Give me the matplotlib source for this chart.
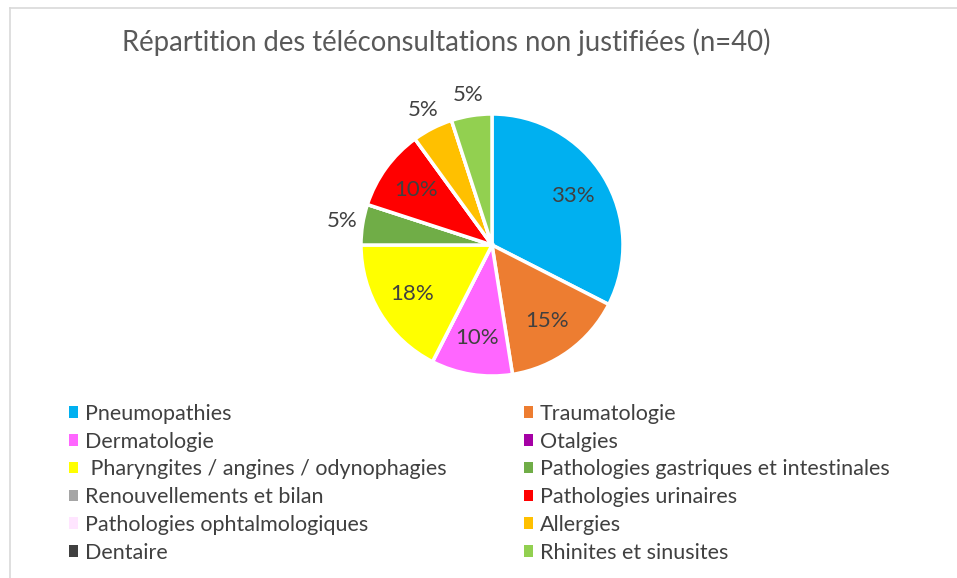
import matplotlib
matplotlib.use("Agg")
import matplotlib.pyplot as plt
from matplotlib.lines import Line2D
from matplotlib.patches import Patch
import numpy as np

plt.rcParams['font.family'] = ['Lato', 'DejaVu Sans']

# data (n=40)
categories = ["Pneumopathies", "Traumatologie", "Dermatologie", "Otalgies",
              " Pharyngites / angines / odynophagies",
              "Pathologies gastriques et intestinales",
              "Renouvellements et bilan", "Pathologies urinaires",
              "Pathologies ophtalmologiques", "Allergies", "Dentaire",
              "Rhinites et sinusites"]
counts = [13, 6, 4, 0, 7, 2, 0, 4, 0, 2, 0, 2]
colors = ["#00B0F0", "#ED7D31", "#FF66FF", "#A500A5", "#FFFF00", "#70AD47",
          "#A5A5A5", "#FF0000", "#FFE5FF", "#FFC000", "#404040", "#92D050"]
outside = [False, False, False, False, False, True,
           False, False, False, True, False, True]

txt = "#404040"
W, H = 957, 578
fig = plt.figure(figsize=(W / 100, H / 100), dpi=100)

# light frame (top and left edges only)
fig.add_artist(Line2D([9.5 / W, 1], [1 - 7.5 / H, 1 - 7.5 / H], color="#D9D9D9", lw=1.2))
fig.add_artist(Line2D([9.5 / W, 9.5 / W], [0, 1 - 7.5 / H], color="#D9D9D9", lw=1.2))

fig.text(446 / W, 1 - 42 / H, "Répartition des téléconsultations non justifiées (n=40)",
         ha="center", va="center", fontsize=19.8, color="#595959")

# pie axes
cx, cy, r = 492, 245, 131
ax = fig.add_axes([(cx - r) / W, (H - cy - r) / H, 2 * r / W, 2 * r / H])


def fmt(p):
    return "" if p < 0.5 else "%d%%" % int(p + 0.5)


wedges, texts, autotexts = ax.pie(counts, colors=colors, startangle=90, counterclock=False,
                                  autopct=fmt, pctdistance=0.72,
                                  wedgeprops=dict(edgecolor="white", linewidth=2.5),
                                  textprops=dict(color=txt, fontsize=16))
for w, t, out in zip(wedges, autotexts, outside):
    if out:
        a = np.deg2rad((w.theta1 + w.theta2) / 2)
        t.set_position((1.16 * np.cos(a), 1.16 * np.sin(a)))
ax.set_xlim(-1, 1)
ax.set_ylim(-1, 1)
ax.set_aspect("equal")

# legend in two columns, row-major
left_idx = list(range(0, len(categories), 2))
right_idx = list(range(1, len(categories), 2))
for idx, x in ((left_idx, 58), (right_idx, 513)):
    handles = [Patch(facecolor=colors[i], edgecolor="none") for i in idx]
    labels = [categories[i] for i in idx]
    fig.legend(handles, labels, loc="upper left", bbox_to_anchor=(x / W, 1 - 393 / H),
               frameon=False, fontsize=15.5, handlelength=0.45, handleheight=0.45,
               handletextpad=0.3, labelspacing=0.36, labelcolor=txt, borderpad=0)

fig.savefig("out.png", dpi=100)
